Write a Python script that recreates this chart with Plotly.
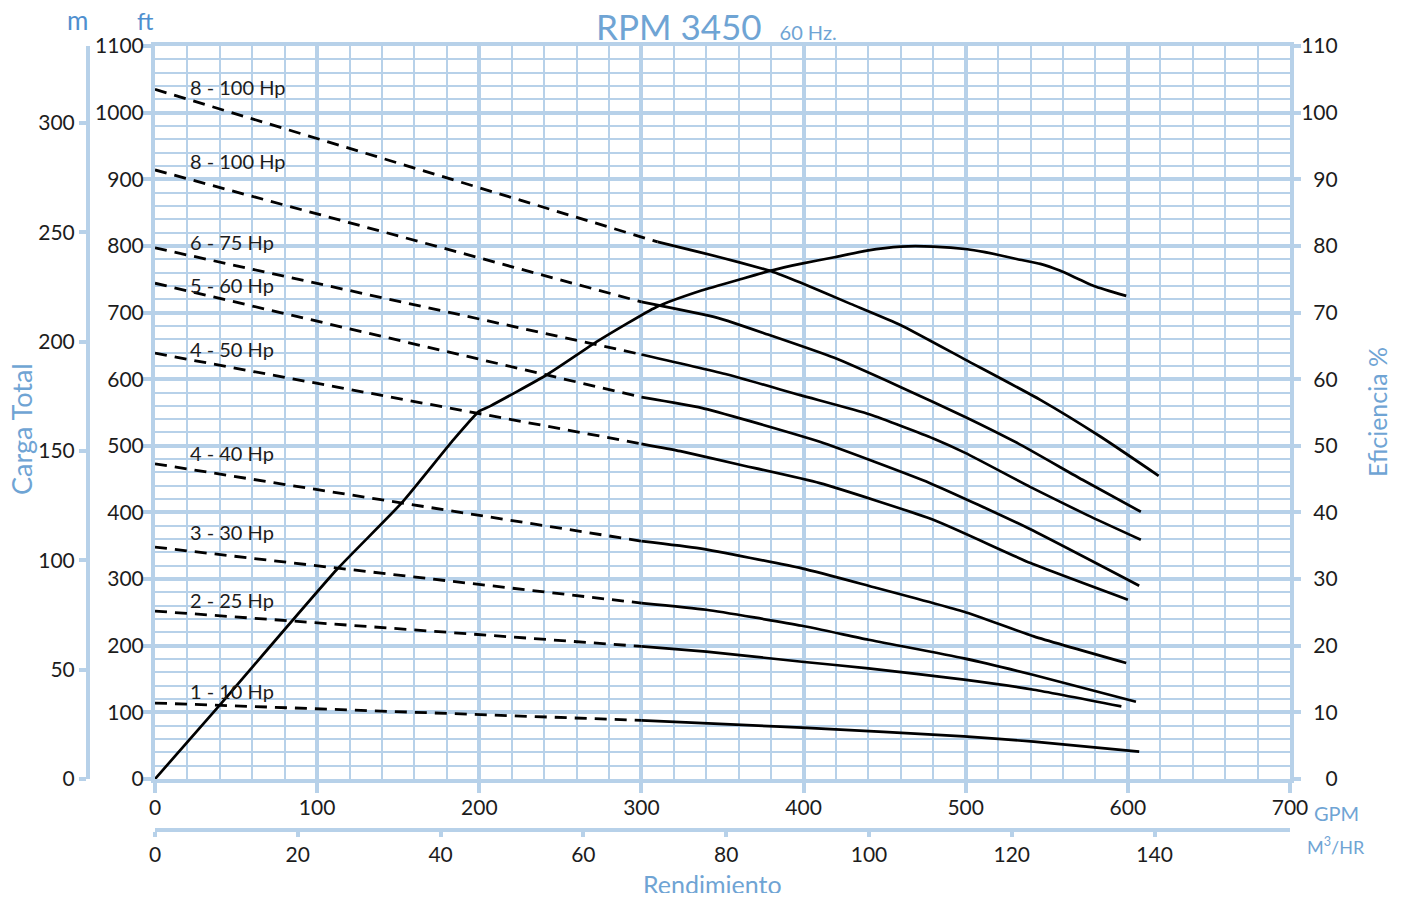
import plotly.graph_objects as go

# ---------------- data ----------------
curve_names = ["8 - 100 Hp", "8 - 100 Hp", "6 - 75 Hp", "5 - 60 Hp", "4 - 50 Hp",
               "4 - 40 Hp", "3 - 30 Hp", "2 - 25 Hp", "1 - 10 Hp"]

gpm_c1 = [0, 310, 337, 361, 380, 398, 429, 460, 500, 546, 583, 619]
ft_c1 = [1035, 806, 790, 775, 762, 745, 713, 681, 629, 569, 514, 455]

gpm_c2 = [0, 300, 347, 378, 419, 460, 500, 532, 572, 608]
ft_c2 = [914, 716, 692, 667, 632, 588, 543, 504, 449, 401]

gpm_c3 = [0, 300, 353, 398, 441, 480, 500, 540, 575, 608]
ft_c3 = [797, 637, 607, 576, 547, 511, 489, 438, 396, 359]

gpm_c4 = [0, 300, 337, 367, 410, 478, 538, 607]
ft_c4 = [744, 573, 557, 537, 506, 444, 377, 290]

gpm_c5 = [0, 300, 324, 360, 410, 480, 540, 600]
ft_c5 = [639, 503, 492, 472, 444, 389, 324, 269]

gpm_c6 = [0, 300, 336, 399, 440, 499, 542, 599]
ft_c6 = [473, 357, 346, 316, 290, 251, 214, 174]

gpm_c7 = [0, 300, 340, 399, 440, 499, 542, 605]
ft_c7 = [348, 264, 254, 230, 209, 181, 156, 116]

gpm_c8 = [0, 300, 340, 399, 440, 499, 542, 596]
ft_c8 = [252, 199, 191, 176, 166, 149, 134, 109]

gpm_c9 = [0, 300, 372, 399, 499, 542, 607]
ft_c9 = [114, 88, 80, 77, 64, 56, 41]

curve_gpm = [gpm_c1, gpm_c2, gpm_c3, gpm_c4, gpm_c5, gpm_c6, gpm_c7, gpm_c8, gpm_c9]
curve_ft = [ft_c1, ft_c2, ft_c3, ft_c4, ft_c5, ft_c6, ft_c7, ft_c8, ft_c9]
solid_from_gpm = [310, 300, 300, 300, 300, 300, 300, 300, 300]

eff_gpm = [0, 41, 112, 152, 183, 200, 207, 242, 273, 309, 337, 361, 380, 398, 419,
           439, 460, 480, 501, 511, 521, 532, 546, 558, 579, 599]
eff_pct = [0, 11.4, 31.4, 41.4, 50.6, 55.2, 56.0, 60.7, 65.7, 70.8, 73.3, 75.0, 76.3,
           77.3, 78.3, 79.3, 79.9, 79.9, 79.5, 79.1, 78.6, 78.0, 77.3, 76.3, 74.0, 72.5]

gpm_ticks = [0, 100, 200, 300, 400, 500, 600, 700]
ft_ticks = [0, 100, 200, 300, 400, 500, 600, 700, 800, 900, 1000, 1100]
eff_ticks = [0, 10, 20, 30, 40, 50, 60, 70, 80, 90, 100, 110]
m_ticks = [0, 50, 100, 150, 200, 250, 300]
m3h_ticks = [0, 20, 40, 60, 80, 100, 120, 140]

GPM_MAX = 700
FT_MAX = 1100
EFF_MAX = 110
M_PER_FT = 0.3048
M3H_PER_GPM = 0.2271

# ---------------- layout helpers ----------------
# the page body has an 8px margin; size the figure so that it fits the window
OFF = 8
W, H = 1387, 885
ML, MR, MT, MB = 60, 60, 30, 30
PW = W - ML - MR
PH = H - MT - MB


def px(xp):
    """page pixel x -> paper fraction"""
    return (xp - OFF - ML) / PW


def py(yp):
    """page pixel y -> paper fraction"""
    return (H - MB - (yp - OFF)) / PH


GRID = "#b7d1e9"
BLUE = "#6fa4d4"
BLUE2 = "#4f8fcf"
INK = "#1c1c1c"
FONT = "Lato"

fig = go.Figure()

for name, g, f, s in zip(curve_names, curve_gpm, curve_ft, solid_from_gpm):
    dg = [x for x in g if x <= s]
    df = [y for x, y in zip(g, f) if x <= s]
    sg = [x for x in g if x >= s]
    sf = [y for x, y in zip(g, f) if x >= s]
    fig.add_trace(go.Scatter(x=dg, y=df, mode="lines", name=name,
                             line=dict(color="black", width=2.8, dash="12px,8px"),
                             hoverinfo="skip", showlegend=False))
    fig.add_trace(go.Scatter(x=sg, y=sf, mode="lines", name=name,
                             line=dict(color="black", width=2.7, shape="spline", smoothing=0.5),
                             showlegend=False))

fig.add_trace(go.Scatter(x=eff_gpm, y=eff_pct, mode="lines", name="Eficiencia",
                         yaxis="y2",
                         line=dict(color="black", width=2.7, shape="spline", smoothing=0.5),
                         showlegend=False))

# invisible helper traces so that the secondary scales are drawn
fig.add_trace(go.Scatter(x=[0, GPM_MAX * M3H_PER_GPM], y=[0, 0], xaxis="x2", yaxis="y",
                         mode="markers", marker=dict(opacity=0), hoverinfo="skip",
                         showlegend=False))
fig.add_trace(go.Scatter(x=[0, 0], y=[0, FT_MAX * M_PER_FT], xaxis="x", yaxis="y3",
                         mode="markers", marker=dict(opacity=0), hoverinfo="skip",
                         showlegend=False))

tickfont = dict(family=FONT, size=21, color=INK)

m_top = FT_MAX * M_PER_FT

fig.update_layout(
    width=W, height=H,
    margin=dict(l=ML, r=MR, t=MT, b=MB),
    paper_bgcolor="white", plot_bgcolor="white",
    font=dict(family=FONT, color=INK),
    xaxis=dict(domain=[px(155), px(1290)], range=[0, GPM_MAX],
               tickvals=gpm_ticks, ticks="outside", ticklen=10, tickwidth=4,
               tickcolor=GRID, tickfont=tickfont, ticklabelstandoff=-3,
               showgrid=True, gridcolor=GRID, gridwidth=4,
               minor=dict(dtick=20, tick0=0, showgrid=True, gridcolor=GRID, gridwidth=2),
               showline=True, linecolor=GRID, linewidth=4, mirror=True,
               zeroline=False, anchor="y"),
    yaxis=dict(domain=[py(779), py(46)], range=[0, FT_MAX],
               tickvals=ft_ticks, ticks="outside", ticklen=10, tickwidth=4,
               tickcolor=GRID, tickfont=tickfont, ticklabelstandoff=-7,
               showgrid=True, gridcolor=GRID, gridwidth=4,
               minor=dict(dtick=20, tick0=0, showgrid=True, gridcolor=GRID, gridwidth=2),
               showline=True, linecolor=GRID, linewidth=4, mirror=True,
               zeroline=False, anchor="x"),
    yaxis2=dict(overlaying="y", side="right", anchor="x", range=[0, EFF_MAX],
                tickvals=eff_ticks,
                ticktext=["\u2007" * (3 - len(str(v))) + str(v) for v in eff_ticks],
                ticks="outside", ticklen=10, tickwidth=4, tickcolor=GRID,
                tickfont=tickfont, ticklabelstandoff=-4,
                showgrid=False, zeroline=False, showline=False),
    yaxis3=dict(overlaying="y", side="left", anchor="free", position=px(88),
                range=[0, m_top], tickvals=m_ticks,
                ticks="outside", ticklen=7, tickwidth=4, tickcolor=GRID,
                tickfont=tickfont, showgrid=False, zeroline=False,
                showline=True, linecolor=GRID, linewidth=4),
    xaxis2=dict(overlaying="x", side="bottom", anchor="free", position=py(830),
                range=[0, GPM_MAX * M3H_PER_GPM], tickvals=m3h_ticks,
                ticks="outside", ticklen=5, tickwidth=4, tickcolor=GRID,
                tickfont=tickfont, showgrid=False, zeroline=False,
                showline=True, linecolor=GRID, linewidth=4),
)

# curve labels
label_ft = [1038, 927, 806, 741, 645, 489, 371, 269, 132]
for name, lf in zip(curve_names, label_ft):
    fig.add_annotation(x=20.5, y=lf, xref="x", yref="y", text=name, showarrow=False,
                       xanchor="left", yanchor="middle",
                       font=dict(family=FONT, size=20, color=INK))

ann = [
    dict(x=px(594), y=py(26), text="RPM 3450 &nbsp;<span style='font-size:20px'>60 Hz.</span>",
         xanchor="left", font=dict(size=35, color=BLUE)),
    dict(x=px(77), y=py(20), text="m", xanchor="center", font=dict(size=26, color=BLUE2)),
    dict(x=px(145), y=py(20), text="ft", xanchor="center", font=dict(size=24, color=BLUE2)),
    dict(x=px(21), y=py(429), text="Carga Total", textangle=-90, xanchor="center",
         font=dict(size=27, color=BLUE)),
    dict(x=px(1377), y=py(412), text="Eficiencia %", textangle=-90, xanchor="center",
         font=dict(size=25, color=BLUE)),
    dict(x=px(713), y=py(884), text="Rendimiento", xanchor="center",
         font=dict(size=25, color=BLUE)),
    dict(x=px(1336), y=py(813), text="GPM", xanchor="center", font=dict(size=20, color=BLUE)),
    dict(x=px(1336), y=py(846), text="M<sup>3</sup>/HR", xanchor="center",
         font=dict(size=18, color=BLUE)),
]
for a in ann:
    a["font"]["family"] = FONT
    fig.add_annotation(xref="paper", yref="paper", showarrow=False, yanchor="middle", **a)

fig.write_html("out.html")
